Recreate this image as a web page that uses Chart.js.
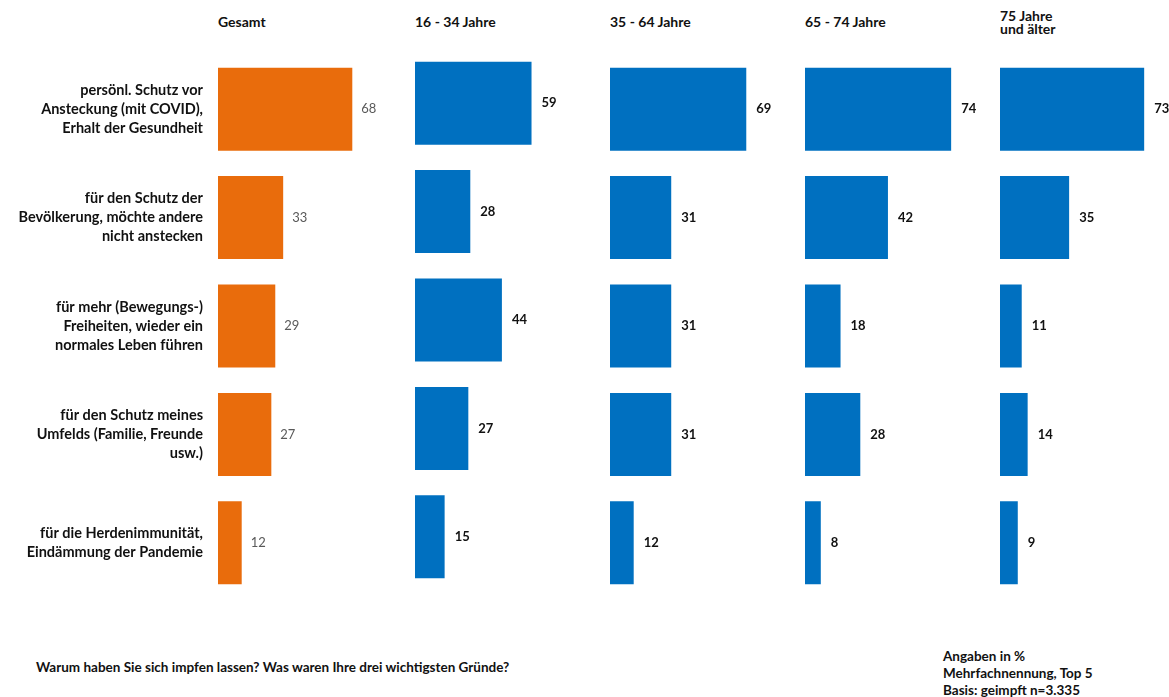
<!DOCTYPE html>
<html>
<head>
<meta charset="utf-8">
<script src="https://cdn.jsdelivr.net/npm/chart.js@4"></script>
<style>
  body { margin: 0; background: #fff; width: 1169px; height: 697px; position: relative; overflow: hidden; font-family: Lato, sans-serif; }
  .panel { position: absolute; }
  .head { position: absolute; font-weight: bold; color: #111; font-size: 14px; line-height: 13px; }
  .note { position: absolute; font-weight: bold; color: #111; font-size: 13.5px; }
</style>
</head>
<body>
<div class="head" style="left:218px; top:15px;">Gesamt</div>
<div class="head" style="left:415px; top:15px;">16 - 34 Jahre</div>
<div class="head" style="left:610px; top:15px;">35 - 64 Jahre</div>
<div class="head" style="left:805px; top:15px;">65 - 74 Jahre</div>
<div class="head" style="left:1000px; top:9px; line-height:13px;">75 Jahre<br>und älter</div>

<div class="note" style="left:36px; top:659px;">Warum haben Sie sich impfen lassen? Was waren Ihre drei wichtigsten Gründe?</div>
<div class="note" style="left:943px; top:648px; line-height:17px;">Angaben in %<br>Mehrfachnennung, Top 5<br>Basis: geimpft n=3.335</div>

<script>
// Kategorien (mehrzeilig)
var categories = [
    ["persönl. Schutz vor", "Ansteckung (mit COVID),", "Erhalt der Gesundheit"],
    ["für den Schutz der", "Bevölkerung, möchte andere", "nicht anstecken"],
    ["für mehr (Bewegungs-)", "Freiheiten, wieder ein", "normales Leben führen"],
    ["für den Schutz meines", "Umfelds (Familie, Freunde", "usw.)"],
    ["für die Herdenimmunität,", "Eindämmung der Pandemie"]
];

// Werte in %
var gesamt   = [68, 33, 29, 27, 12];
var age16_34 = [59, 28, 44, 27, 15];
var age35_64 = [69, 31, 31, 31, 12];
var age65_74 = [74, 42, 18, 28, 8];
var age75    = [73, 35, 11, 14, 9];

var orange = "#E96C0C";
var blue = "#0070C0";
var pxPerUnit = 1.975;

// Werte neben die Balken schreiben
var valueLabels = {
    id: "valueLabels",
    afterDatasetsDraw: function(chart, args, opts) {
        var c = chart.ctx;
        var meta = chart.getDatasetMeta(0);
        var data = chart.data.datasets[0].data;
        c.save();
        c.font = (opts.bold ? "bold " : "") + "13px Lato, sans-serif";
        c.fillStyle = opts.color;
        c.textAlign = "left";
        c.textBaseline = "middle";
        meta.data.forEach(function(bar, i) {
            c.fillText(data[i], bar.x + opts.offset, bar.y);
        });
        c.restore();
    }
};

function makePanel(left, top, width, values, color, withLabels) {
    var div = document.createElement("div");
    div.className = "panel";
    div.style.left = left + "px";
    div.style.top = top + "px";
    var canvas = document.createElement("canvas");
    canvas.width = width;
    canvas.height = 542;
    div.appendChild(canvas);
    document.body.appendChild(div);

    var axisWidth = withLabels ? 218 : 0;
    var areaWidth = width - axisWidth;

    return new Chart(canvas.getContext("2d"), {
        type: "bar",
        data: {
            labels: categories,
            datasets: [{
                data: values,
                backgroundColor: color,
                categoryPercentage: 1,
                barPercentage: 0.766
            }]
        },
        options: {
            indexAxis: "y",
            responsive: false,
            animation: false,
            layout: { padding: 0 },
            plugins: {
                legend: { display: false },
                tooltip: { enabled: false },
                valueLabels: {
                    offset: withLabels ? 9 : 10,
                    color: withLabels ? "#595959" : "#111",
                    bold: !withLabels
                }
            },
            scales: {
                x: {
                    display: false,
                    min: 0,
                    max: areaWidth / pxPerUnit
                },
                y: {
                    display: withLabels,
                    grid: { display: false, drawTicks: false },
                    border: { display: false },
                    ticks: {
                        padding: 15,
                        color: "#111",
                        font: { family: "Lato, sans-serif", size: 14.5, weight: "bold", lineHeight: 1.31 }
                    },
                    afterFit: function(scale) {
                        scale.width = axisWidth;
                        scale.paddingTop = 0;
                        scale.paddingBottom = 0;
                    }
                }
            }
        },
        plugins: [valueLabels]
    });
}

makePanel(0, 55, 398, gesamt, orange, true);
makePanel(415, 49, 190, age16_34, blue, false);
makePanel(610, 55, 190, age35_64, blue, false);
makePanel(805, 55, 190, age65_74, blue, false);
makePanel(1000, 55, 169, age75, blue, false);
</script>
</body>
</html>
